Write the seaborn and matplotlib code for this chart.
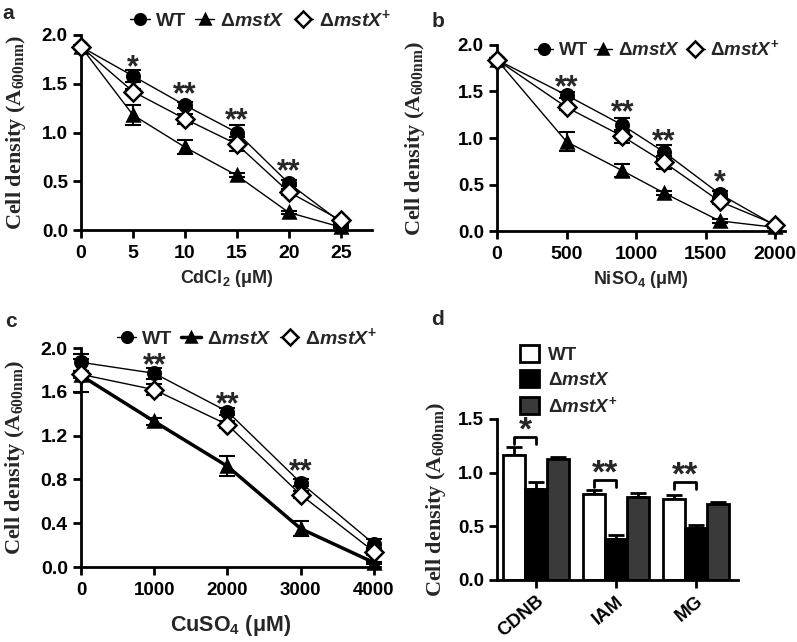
import matplotlib
matplotlib.use("Agg")
import matplotlib.pyplot as plt
import seaborn as sns
import numpy as np
import pandas as pd
from matplotlib.patches import Patch

# ---- data ----
strains = ["WT", "ΔmstX", "ΔmstX+"]

cd_conc = [0, 5, 10, 15, 20, 25]
cd_wt = [1.88, 1.58, 1.28, 1.00, 0.48, 0.08]
cd_wt_err = [0.02, 0.06, 0.03, 0.08, 0.03, 0.02]
cd_ko = [1.88, 1.18, 0.85, 0.56, 0.18, 0.03]
cd_ko_err = [0.02, 0.10, 0.07, 0.02, 0.02, 0.01]
cd_comp = [1.88, 1.42, 1.14, 0.88, 0.39, 0.10]
cd_comp_err = [0.02, 0.03, 0.05, 0.07, 0.03, 0.02]

ni_conc = [0, 500, 900, 1200, 1600, 2000]
ni_wt = [1.84, 1.46, 1.14, 0.85, 0.40, 0.06]
ni_wt_err = [0.02, 0.03, 0.07, 0.07, 0.03, 0.01]
ni_ko = [1.84, 0.96, 0.65, 0.41, 0.11, 0.04]
ni_ko_err = [0.02, 0.10, 0.07, 0.02, 0.02, 0.01]
ni_comp = [1.84, 1.33, 1.02, 0.74, 0.32, 0.07]
ni_comp_err = [0.02, 0.03, 0.07, 0.07, 0.03, 0.01]

cu_conc = [0, 1000, 2000, 3000, 4000]
cu_wt = [1.87, 1.77, 1.42, 0.77, 0.21]
cu_wt_err = [0.08, 0.05, 0.03, 0.03, 0.05]
cu_ko = [1.75, 1.33, 0.92, 0.35, 0.04]
cu_ko_err = [0.15, 0.03, 0.09, 0.07, 0.01]
cu_comp = [1.76, 1.62, 1.30, 0.66, 0.14]
cu_comp_err = [0.03, 0.05, 0.03, 0.03, 0.03]

stress = ["CDNB", "IAM", "MG"]
bar_wt = [1.16, 0.80, 0.75]
bar_wt_err = [0.08, 0.04, 0.04]
bar_ko = [0.85, 0.38, 0.48]
bar_ko_err = [0.06, 0.04, 0.03]
bar_comp = [1.13, 0.77, 0.71]
bar_comp_err = [0.02, 0.04, 0.02]

sns.set_style("ticks")
plt.rcParams["font.family"] = ["Liberation Sans", "DejaVu Sans"]
plt.rcParams["font.weight"] = "bold"
plt.rcParams["mathtext.fontset"] = "custom"
plt.rcParams["mathtext.rm"] = "Liberation Sans:bold"
plt.rcParams["mathtext.it"] = "Liberation Sans:bold:italic"
plt.rcParams["mathtext.bf"] = "Liberation Sans:bold"
plt.rcParams["axes.linewidth"] = 2
plt.rcParams["xtick.major.width"] = 2
plt.rcParams["ytick.major.width"] = 2
plt.rcParams["xtick.major.size"] = 6
plt.rcParams["ytick.major.size"] = 6
plt.rcParams["xtick.major.pad"] = 5
plt.rcParams["xtick.color"] = "black"
plt.rcParams["ytick.color"] = "black"
plt.rcParams["axes.edgecolor"] = "black"

labels = ["WT", r"Δ$\mathit{mstX}$", r"Δ$\mathit{mstX}^{+}$"]
ylab = r"Cell density (A$_{\mathregular{600nm}}$)"

fig = plt.figure(figsize=(7.97, 6.42), dpi=100)
ax_a = fig.add_axes([0.1016, 0.6417, 0.365, 0.3038])
ax_b = fig.add_axes([0.6236, 0.640, 0.3614, 0.290])
ax_c = fig.add_axes([0.1016, 0.1168, 0.375, 0.341])
ax_d = fig.add_axes([0.6236, 0.0966, 0.3024, 0.2508])


def line_panel(ax, x, series, ko_lw=1.0):
    (wt, wt_e), (ko, ko_e), (cp, cp_e) = series
    styles = [
        (wt, wt_e, dict(marker="o", markersize=9, markerfacecolor="black", lw=1.0)),
        (ko, ko_e, dict(marker="^", markersize=9, markerfacecolor="black", lw=ko_lw)),
        (cp, cp_e, dict(marker="D", markersize=9.5, markerfacecolor="white", lw=1.0)),
    ]
    for (y, e, st), lab in zip(styles, labels):
        ax.errorbar(x, y, yerr=e, fmt="none", ecolor="black", elinewidth=1.5,
                    capsize=6, capthick=1.5, zorder=2, clip_on=False)
        sns.lineplot(x=x, y=y, ax=ax, color="black", markeredgecolor="black",
                     markeredgewidth=1.8, label=lab, zorder=3,
                     clip_on=False, **st)
    sns.despine(ax=ax)


def style_axes(ax, xsize, ysize, ypad):
    ax.set_ylabel(ylab, family=["Liberation Serif"], fontsize=16,
                  fontweight="bold", labelpad=ypad)
    ax.tick_params(axis="x", labelsize=xsize)
    ax.tick_params(axis="y", labelsize=ysize)
    for t in ax.get_xticklabels() + ax.get_yticklabels():
        t.set_fontweight("bold")


def stars(ax, xs, ys, txt):
    for x, y, t in zip(xs, ys, txt):
        ax.text(x, y, t, ha="center", va="center", fontsize=22, fontweight="bold")


# panel a
line_panel(ax_a, cd_conc, [(cd_wt, cd_wt_err), (cd_ko, cd_ko_err), (cd_comp, cd_comp_err)])
ax_a.set_xlim(0, 28)
ax_a.set_ylim(0, 2.0)
ax_a.set_xticks(cd_conc)
ax_a.set_yticks([0, 0.5, 1.0, 1.5, 2.0])
ax_a.set_xlabel(r"CdCl$_{\mathregular{2}}$ (μM)", fontsize=13, fontweight="bold")
style_axes(ax_a, 14, 13.5, 10)
stars(ax_a, [5, 10, 15, 20], [1.66, 1.38, 1.12, 0.59], ["*", "**", "**", "**"])

# panel b
line_panel(ax_b, ni_conc, [(ni_wt, ni_wt_err), (ni_ko, ni_ko_err), (ni_comp, ni_comp_err)])
ax_b.set_xlim(0, 2070)
ax_b.set_ylim(0, 2.0)
ax_b.set_xticks([0, 500, 1000, 1500, 2000])
ax_b.set_yticks([0, 0.5, 1.0, 1.5, 2.0])
ax_b.set_xlabel(r"NiSO$_{\mathregular{4}}$ (μM)", fontsize=13, fontweight="bold")
style_axes(ax_b, 14, 13.5, 22)
stars(ax_b, [500, 900, 1200, 1600], [1.54, 1.27, 0.95, 0.51], ["**", "**", "**", "*"])

# panel c
line_panel(ax_c, cu_conc, [(cu_wt, cu_wt_err), (cu_ko, cu_ko_err), (cu_comp, cu_comp_err)], ko_lw=2.5)
ax_c.set_xlim(0, 4080)
ax_c.set_ylim(0, 2.0)
ax_c.set_xticks(cu_conc)
ax_c.set_yticks([0, 0.4, 0.8, 1.2, 1.6, 2.0])
ax_c.set_xlabel(r"CuSO$_{\mathregular{4}}$ (μM)", fontsize=15.5, fontweight="bold", labelpad=10)
style_axes(ax_c, 13.5, 14, 10)
stars(ax_c, [1000, 2000, 3000], [1.83, 1.48, 0.87], ["**", "**", "**"])

for ax, anchor, fs, cs in [(ax_a, (0.17, 1.14), 14, 0.45),
                           (ax_b, (0.13, 1.03), 13.5, 0.3),
                           (ax_c, (0.12, 1.10), 14, 0.45)]:
    ax.legend(loc="upper left", bbox_to_anchor=anchor, ncol=3, frameon=False,
              fontsize=fs, handlelength=1.0, handletextpad=0.3, columnspacing=cs,
              markerscale=0.85, borderaxespad=0, borderpad=0)

# panel d
bars = pd.DataFrame({
    "stress": stress * 3,
    "strain": [s for s in strains for _ in stress],
    "value": bar_wt + bar_ko + bar_comp,
})
errs = [bar_wt_err, bar_ko_err, bar_comp_err]
bar_cols = ["white", "black", "#3a3a3a"]
sns.barplot(data=bars, x="stress", y="value", hue="strain", palette=bar_cols,
            edgecolor="black", linewidth=2, width=0.83, errorbar=None,
            legend=False, ax=ax_d, zorder=2)
centers = []
for cont, e in zip(ax_d.containers, errs):
    xs = [p.get_x() + p.get_width() / 2 for p in cont]
    hs = [p.get_height() for p in cont]
    centers.append(xs)
    ax_d.errorbar(xs, hs, yerr=[np.zeros(len(e)), e], fmt="none", ecolor="black",
                  elinewidth=2, capsize=6, capthick=2, zorder=1)
ax_d.set_xlim(-0.49, 2.53)
ax_d.set_ylim(0, 1.5)
ax_d.set_yticks([0, 0.5, 1.0, 1.5])
ax_d.set_xlabel("")
sns.despine(ax=ax_d)
ax_d.set_xticks(range(3))
ax_d.set_xticklabels(stress, rotation=40, ha="right", rotation_mode="anchor")
style_axes(ax_d, 13.5, 13.5, 7)
ax_d.tick_params(axis="x", pad=3)

bracket_y = [1.33, 0.93, 0.91]
bracket_txt = ["*", "**", "**"]
for i in range(3):
    x0, x1 = centers[0][i], centers[1][i]
    yb = bracket_y[i]
    ax_d.plot([x0, x0, x1, x1], [yb - 0.06, yb, yb, yb - 0.06], color="black", lw=2)
    ax_d.text((x0 + x1) / 2, yb + 0.06, bracket_txt[i], ha="center", va="center",
              fontsize=24, fontweight="bold")

handles = [Patch(facecolor=c, edgecolor="black", linewidth=2) for c in bar_cols]
ax_d.legend(handles, labels, loc="upper left", bbox_to_anchor=(0.095, 1.46),
            frameon=False, fontsize=13.5, handlelength=1.0, handleheight=1.0,
            handletextpad=0.5, labelspacing=0.35, borderaxespad=0, borderpad=0)

for letter, x, y in [("a", 0.003, 0.993), ("b", 0.541, 0.982), ("c", 0.006, 0.514), ("d", 0.541, 0.517)]:
    fig.text(x, y, letter, fontsize=15, fontweight="bold", va="top")

fig.savefig("out.png", dpi=100)
